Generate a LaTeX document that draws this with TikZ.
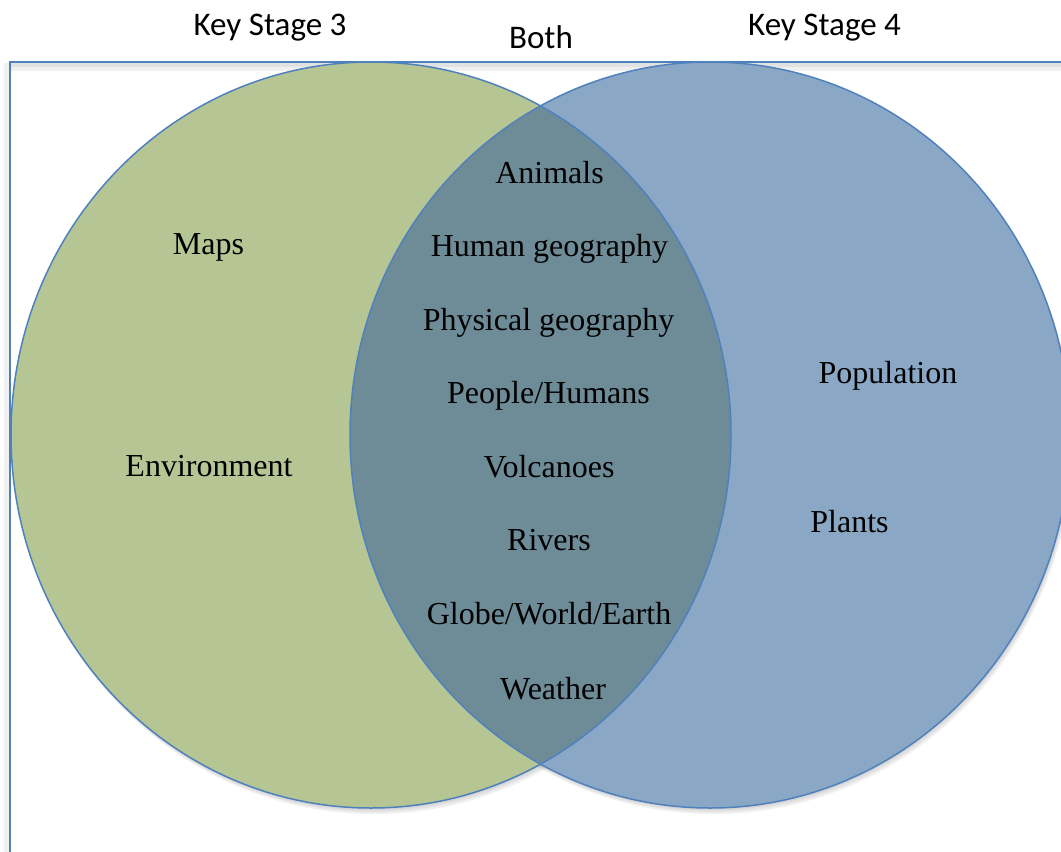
\documentclass[tikz,border=0pt]{standalone}
\usepackage{fontspec}
\setmainfont{Liberation Serif}
\newfontfamily\headfont{Carlito}

\definecolor{rimblue}{RGB}{79,129,189}
\definecolor{ksgreen}{RGB}{181,197,148}
\definecolor{ksblue}{RGB}{139,167,198}
\definecolor{ksboth}{RGB}{110,140,152}

\begin{document}
\begin{tikzpicture}[x=1pt, y=-1pt]

    % Styles for the labels and outlines
    \tikzset{lbl/.style={inner sep=0pt, anchor=base, font=\fontsize{32}{38}\selectfont},
             head/.style={inner sep=0pt, anchor=base, font=\headfont\fontsize{33}{40}\selectfont},
             rim/.style={draw=rimblue, line width=1.5pt},
             shade/.style={fill=black, opacity=0.06}}

    % Centres and radii of the two sets
    \def\cxl{371}  % centre of Key Stage 3
    \def\cxr{710}  % centre of Key Stage 4
    \def\cy{435}
    \def\rx{360pt}
    \def\ry{373pt}

    \useasboundingbox (0,0) rectangle (1061,852);

    % --- Frame ---
    \fill[shade] (11,63) rectangle (1061,71);
    \fill[shade] (11,63) rectangle (1061,67);
    \fill[shade] (4,63) rectangle (10,852);
    \draw[rim] (10,856) -- (10,62) -- (1070,62);

    % --- Shadows under the sets ---
    \foreach \d in {2,4,6} {
      \fill[shade] (\cxl+\d/2,\cy+\d) ellipse [x radius=\rx, y radius=\ry];
      \fill[shade] (\cxr+\d/2,\cy+\d) ellipse [x radius=\rx, y radius=\ry];
    }

    % --- Sets ---
    \fill[ksgreen] (\cxl,\cy) ellipse [x radius=\rx, y radius=\ry];
    \fill[ksblue] (\cxr,\cy) ellipse [x radius=\rx, y radius=\ry];
    \begin{scope}
      \clip (\cxl,\cy) ellipse [x radius=\rx, y radius=\ry];
      \fill[ksboth] (\cxr,\cy) ellipse [x radius=\rx, y radius=\ry];
    \end{scope}
    \draw[rim] (\cxl,\cy) ellipse [x radius=\rx, y radius=\ry];
    \draw[rim] (\cxr,\cy) ellipse [x radius=\rx, y radius=\ry];

    % --- Headings ---
    \node[head] (ks3) at (270,35) {Key Stage 3};
    \node[head] (both) at (541,48) {Both};
    \node[head] (ks4) at (824.5,35) {Key Stage 4};

    % --- Key Stage 3 only ---
    \node[lbl] (maps) at (208.5,254) {Maps};
    \node[lbl] (environment) at (209,476) {Environment};

    % --- Shared topics ---
    \foreach \xb/\yb/\txt [count=\i] in {549.5/183/Animals, 549.5/256/Human geography,
        548.5/330/Physical geography, 548.5/403/{People/Humans}, 549/477/Volcanoes,
        549/550/Rivers, 549/624/{Globe/World/Earth}, 553/699/Weather}
      \node[lbl] (shared\i) at (\xb,\yb) {\txt};

    % --- Key Stage 4 only ---
    \node[lbl] (population) at (888,383) {Population};
    \node[lbl] (plants) at (849.5,532) {Plants};
\end{tikzpicture}
\end{document}
